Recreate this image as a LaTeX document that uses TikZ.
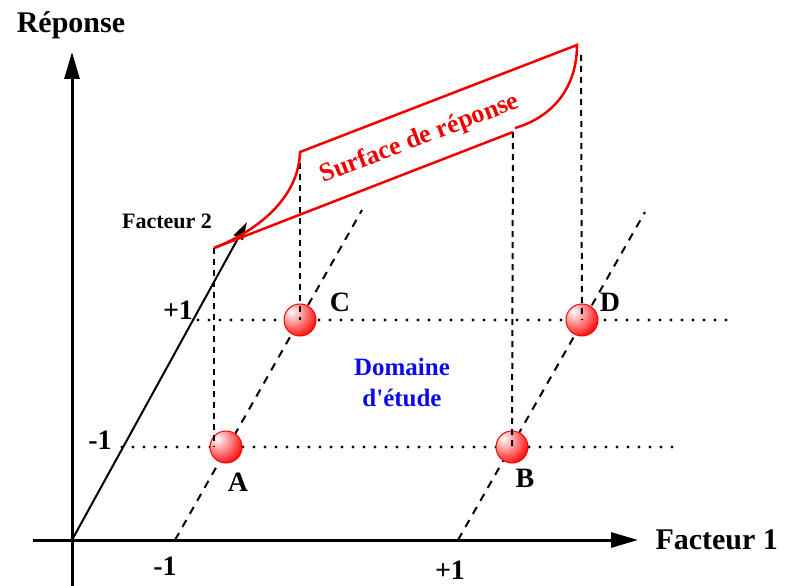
\documentclass[tikz,border=0pt]{standalone}
\usepackage{fontspec}
\setmainfont{Liberation Serif}
\usetikzlibrary{arrows.meta,positioning,calc}
\definecolor{surfred}{RGB}{240,0,0}
\definecolor{domblue}{RGB}{10,10,235}
\pgfdeclareradialshading{redball}{\pgfpoint{-14bp}{14bp}}{color(0bp)=(white); color(12bp)=(red!30!white); color(38bp)=(red); color(62bp)=(red!92!black); color(100bp)=(red!92!black)}

\begin{document}
\begin{tikzpicture}[x=1pt, y=-1pt,
        axis/.style={line width=3pt, -{Triangle[length=27pt,width=15pt]}},
        proj/.style={line width=2pt, dash pattern=on 6pt off 5pt},
        oblique/.style={line width=2pt, dash pattern=on 8pt off 7pt},
        level/.style={line width=3.2pt, line cap=round, dash pattern=on 0pt off 11pt},
        surf/.style={draw=surfred, line width=2.5pt},
        sphere/.style={circle, draw=red, line width=1pt, shading=redball, minimum size=32pt, inner sep=0pt},
        lbl/.style={font=\bfseries\fontsize{28}{30}\selectfont}]
        \useasboundingbox (0,0) rectangle (793,586);
        \coordinate (O) at (72,540);
        \coordinate (ytop) at (72,52);
        \coordinate (ybot) at (72,586);
        \coordinate (xbeg) at (33,540);
        \coordinate (xend) at (638,540);
        \coordinate (f2) at (247,222);
        \coordinate (mleft) at (175,540);
        \coordinate (mlefttop) at (362,210);
        \coordinate (pright) at (458,540);
        \coordinate (prighttop) at (645,212);
        \coordinate (lowbeg) at (122,447);
        \coordinate (lowend) at (680,447);
        \coordinate (highbeg) at (198,320);
        \coordinate (highend) at (735,320);
        \coordinate (sA) at (226,447);
        \coordinate (sB) at (512,447);
        \coordinate (sC) at (300,320);
        \coordinate (sD) at (582,320);
        \coordinate (cornerL) at (214,248);
        \coordinate (cornerC) at (300,152);
        \coordinate (cornerB) at (513,132);
        \coordinate (cornerD) at (577,45);
        \draw[level] (lowbeg) -- (lowend);
        \draw[level] (highbeg) -- (highend);
        \draw[oblique] (mleft) -- (mlefttop);
        \draw[oblique] (pright) -- (prighttop);
        \draw[axis] (ybot) -- (ytop);
        \draw[axis] (xbeg) -- (xend);
        \draw[line width=2pt, -{Triangle[length=18pt,width=10pt]}] (O) -- (f2);
        \node[sphere] (A) at (sA) {};
        \node[sphere] (B) at (sB) {};
        \node[sphere] (C) at (sC) {};
        \node[sphere] (D) at (sD) {};
        \draw[proj] (cornerL) -- (214,447);
        \draw[proj] (cornerC) -- (C.center);
        \draw[proj] (cornerB) -- (B.center);
        \draw[proj] (581,55) -- (D.center);
        \draw[surf] (cornerL) -- (cornerB);
        \draw[surf] (515,128) .. controls (550,118) and (577,90) .. (cornerD) -- (cornerC)
          .. controls (299,195) and (262,229) .. (cornerL);
        \node[font=\bfseries\fontsize{26}{28}\selectfont, text=surfred, rotate=21] (surface) at (420,139) {Surface de réponse};
        \node[font=\bfseries\fontsize{30}{32}\selectfont] (reponse) at (71,25) {Réponse};
        \node[font=\bfseries\fontsize{30}{32}\selectfont, anchor=west] (fact1) at (652,540) {Facteur 1};
        \node[font=\bfseries\fontsize{22}{24}\selectfont] (fact2) at (167,221) {Facteur 2};
        \node[lbl] (ymax) at (178,310) {+1};
        \node[lbl] (ymin) at (100,440) {-1};
        \node[lbl] (xmin) at (165,566) {-1};
        \node[lbl] (xmax) at (450,570) {+1};
        \node[lbl] (labA) at (238,482) {A};
        \node[lbl] (labB) at (525,478) {B};
        \node[lbl] (labC) at (340,302) {C};
        \node[lbl] (labD) at (610,302) {D};
        \node[font=\bfseries\fontsize{25}{31}\selectfont, text=domblue, align=center] (domaine) at (402,382) {Domaine\\d\textquotesingle étude};
      \end{tikzpicture}
\end{document}
